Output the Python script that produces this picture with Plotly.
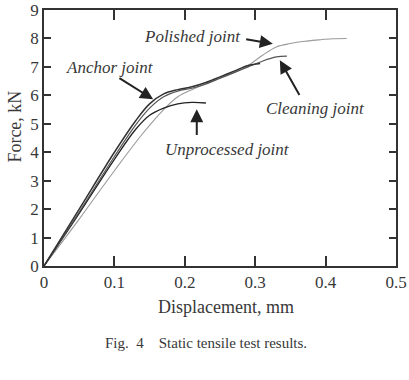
import plotly.graph_objects as go

# Data (Displacement mm, Force kN)
anchor_x = [0, 0.05, 0.1, 0.13, 0.15, 0.17, 0.19, 0.21, 0.23, 0.25, 0.27, 0.29, 0.307]
anchor_y = [0, 2.0, 4.0, 5.1, 5.7, 6.05, 6.2, 6.3, 6.45, 6.65, 6.85, 7.05, 7.12]

cleaning_x = [0, 0.05, 0.1, 0.13, 0.15, 0.17, 0.19, 0.21, 0.23, 0.25, 0.27, 0.29, 0.31, 0.33, 0.345]
cleaning_y = [0, 1.9, 3.85, 4.95, 5.55, 5.95, 6.15, 6.25, 6.4, 6.6, 6.8, 7.0, 7.2, 7.35, 7.38]

unproc_x = [0, 0.05, 0.1, 0.13, 0.15, 0.17, 0.19, 0.21, 0.23]
unproc_y = [0, 1.85, 3.75, 4.8, 5.3, 5.55, 5.7, 5.75, 5.73]

polished_x = [0, 0.05, 0.1, 0.14, 0.17, 0.19, 0.21, 0.23, 0.25, 0.27, 0.29, 0.31, 0.33, 0.35, 0.37, 0.39, 0.41, 0.43]
polished_y = [0, 1.65, 3.35, 4.65, 5.5, 5.95, 6.2, 6.4, 6.6, 6.8, 7.05, 7.4, 7.7, 7.82, 7.9, 7.95, 7.99, 8.0]

x_ticks = [0, 0.1, 0.2, 0.3, 0.4, 0.5]
x_tick_labels = ["0", "0.1", "0.2", "0.3", "0.4", "0.5"]
y_ticks = list(range(0, 10))

FONT = "Liberation Serif, Times New Roman, serif"
TXT = "#383838"
NB = "\u00a0"

fig = go.Figure()
fig.add_trace(go.Scatter(x=polished_x, y=polished_y, mode="lines", line=dict(color="#9a9a9a", width=1.1, shape="spline")))
fig.add_trace(go.Scatter(x=unproc_x, y=unproc_y, mode="lines", line=dict(color="#222222", width=1.3, shape="spline")))
fig.add_trace(go.Scatter(x=cleaning_x, y=cleaning_y, mode="lines", line=dict(color="#555555", width=1.2, shape="spline")))
fig.add_trace(go.Scatter(x=anchor_x, y=anchor_y, mode="lines", line=dict(color="#333333", width=1.5, shape="spline")))

def arrow(hx, hy, tx, ty):
    fig.add_annotation(x=hx, y=hy, ax=tx, ay=ty, xref="x", yref="y", axref="x", ayref="y",
                       showarrow=True, arrowhead=2, arrowsize=1.3, arrowwidth=2, arrowcolor="#222222", text="")

def label(x, y, t, anchor="center"):
    fig.add_annotation(x=x, y=y, xref="x", yref="y", text=t, showarrow=False, xanchor=anchor,
                       font=dict(family=FONT, size=17, color=TXT))

label(0.283, 8.07, "<i>Polished joint</i>", "right")
arrow(0.325, 7.81, 0.285, 7.98)
label(0.094, 6.99, "<i>Anchor joint</i>")
arrow(0.155, 5.86, 0.105, 6.64)
label(0.386, 5.55, "<i>Cleaning joint</i>")
arrow(0.335, 7.23, 0.364, 5.96)
label(0.26, 4.08, "<i>Unprocessed joint</i>")
arrow(0.217, 5.51, 0.217, 4.55)

# axis titles as text placed like the reference
fig.add_annotation(x=0, y=4.9, xref="paper", yref="y", xshift=-29, xanchor="center", yanchor="middle",
                   text="Force, kN", textangle=-90,
                   showarrow=False, font=dict(family=FONT, size=18, color=TXT))
fig.add_annotation(x=0.517, y=0, xref="paper", yref="paper", yshift=-41, xanchor="center", yanchor="middle",
                   text="Displacement, mm", showarrow=False, font=dict(family=FONT, size=18, color=TXT))

fig.add_annotation(x=0.459, y=0.0, xref="paper", yref="paper", yshift=-77, xanchor="center",
                   text="Fig." + NB * 2 + "4" + NB * 4 + "Static tensile test results.", showarrow=False,
                   font=dict(family=FONT, size=15, color=TXT), yanchor="middle")

fig.update_layout(
    width=409, height=380, margin=dict(l=44, r=13, t=10, b=114, autoexpand=False),
    paper_bgcolor="white", plot_bgcolor="white", showlegend=False,
    font=dict(family=FONT, size=17, color=TXT),
)
fig.update_xaxes(range=[0, 0.5], tickvals=x_ticks, ticktext=x_tick_labels, ticks="inside", ticklen=10,
                 tickwidth=1.5, tickcolor="#333333", showline=True, linecolor="#333333", linewidth=1.5,
                 mirror="ticks", showgrid=False, zeroline=False, ticklabeloverflow="allow", automargin=False,
                 tickfont=dict(family=FONT, size=17, color=TXT))
fig.update_yaxes(range=[0, 9], tickvals=y_ticks, ticks="inside", ticklen=7,
                 tickwidth=1.5, tickcolor="#333333", showline=True, linecolor="#333333", linewidth=1.5,
                 mirror="ticks", showgrid=False, zeroline=False, ticklabeloverflow="allow", automargin=False,
                 tickfont=dict(family=FONT, size=17, color=TXT))

fig.write_html("out.html")
